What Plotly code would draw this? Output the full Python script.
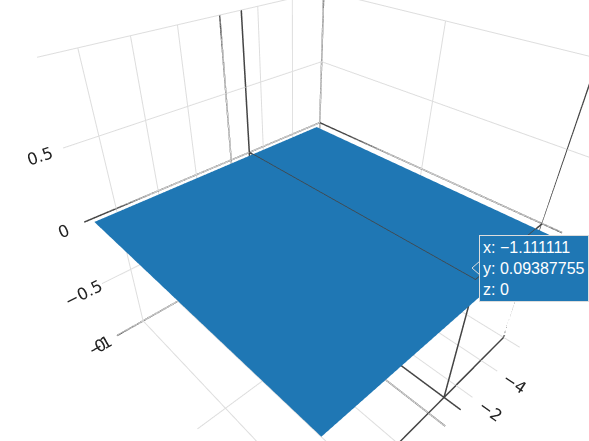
import plotly.graph_objects as go

x_vals = [-5.5, -3.0, -0.5, 2.1, 4.7, 7.1]
y_vals = [0.002, 0.02, 0.04, 0.06, 0.08, 0.098]
z_vals = [[0, 0, 0, 0, 0, 0] for _ in y_vals]
hover_x, hover_y, hover_z = -1.111111, 0.09387755, 0
x_range = [-6, 7.4]
y_range = [0, 0.1]
z_range = [-1, 1]

spike_x = [x_range[0], hover_x, None, hover_x, hover_x, None, hover_x, hover_x, None,
           x_range[0], hover_x, x_range[1], None, hover_x, hover_x, None,
           x_range[0], x_range[0], None, hover_x, hover_x]
spike_y = [hover_y, hover_y, None, y_range[0], hover_y, None, hover_y, hover_y, None,
           hover_y, hover_y, hover_y, None, y_range[0], y_range[1], None,
           hover_y, hover_y, None, y_range[0], y_range[0]]
spike_z = [0, 0, None, 0, 0, None, -1, 0, None,
           -1, -1, -1, None, -1, -1, None,
           -1, 1, None, -1, 1]

fig = go.Figure()
fig.add_trace(go.Surface(x=x_vals, y=y_vals, z=z_vals, showscale=False,
                         colorscale=[[0, "#1f77b4"], [1, "#1f77b4"]],
                         lighting=dict(ambient=1, diffuse=0, specular=0, roughness=1, fresnel=0),
                         hoverinfo="skip"))
fig.add_trace(go.Scatter3d(x=spike_x, y=spike_y, z=spike_z, mode="lines",
                           line=dict(color="#444444", width=3), showlegend=False, hoverinfo="skip"))
axis = dict(title="", showbackground=False, gridcolor="#dddddd", zeroline=True, zerolinecolor="#444444",
            zerolinewidth=3, showspikes=False, tickfont=dict(family="DejaVu Sans", size=14, color="#222222"))
fig.update_layout(
    width=589, height=441,
    margin=dict(l=0, r=0, t=0, b=0),
    paper_bgcolor="white",
    scene=dict(
        xaxis=dict(axis, range=x_range, tickvals=[-4, -2, 0, 2, 4, 6], ticktext=["−4", "−2", "", "", "", ""]),
        yaxis=dict(axis, range=y_range, tickvals=[0, 0.05], ticktext=["0", ""]),
        zaxis=dict(axis, range=z_range, tickvals=[-1, -0.5, 0, 0.5, 1], ticktext=["−1", "−0.5", "0", "0.5", ""]),
        aspectmode="cube",
        camera=dict(eye=dict(x=0.915, y=0.875, z=0.943), center=dict(x=0.0535, y=-0.0535, z=0.023)),
    ),
    annotations=[dict(xref="paper", yref="paper", x=479/589, y=1-268/441, xanchor="left", yanchor="middle",
                      showarrow=False, align="left", bgcolor="#1f77b4", bordercolor="#dddddd", borderwidth=1,
                      borderpad=3, font=dict(family="Liberation Sans", size=16, color="white"),
                      text="x: −1.111111<br>y: 0.09387755<br>z: 0")],
    shapes=[dict(type="path", xref="paper", yref="paper", layer="above",
                 path=f"M {480/589} {1-261/441} L {472/589} {1-268/441} L {480/589} {1-275/441} Z",
                 fillcolor="#1f77b4", line=dict(color="#dddddd", width=1))],
)
fig.write_html("out.html", post_script="document.body.style.margin='0';", config=dict(displayModeBar=False))
